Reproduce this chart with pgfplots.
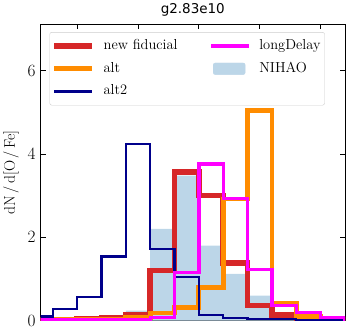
\documentclass[border=0pt]{standalone}
\usepackage{fontspec}
\usepackage{pgfplots}
\usepackage{pgfplotstable}
\pgfplotsset{compat=1.18}
\newfontfamily\dejavu{DejaVu Sans}

\definecolor{cred}{HTML}{D62728}
\definecolor{corange}{HTML}{FF8C00}
\definecolor{cnavy}{HTML}{00008B}
\definecolor{cmag}{HTML}{FF00FF}
\definecolor{cnihao}{HTML}{BCD6E8}

% histogram heights, left bin edge in x
\pgfplotstableread{
x      fid   alt   alttwo  long  nihao
-0.7   0.02  0.03  0.10    0.02  0
-0.6   0.03  0.03  0.28    0.02  0
-0.5   0.04  0.03  0.56    0.02  0
-0.4   0.07  0.04  1.54    0.03  0.02
-0.3   0.14  0.08  4.24    0.03  0.24
-0.2   1.20  0.18  1.72    0.08  2.20
-0.1   3.57  0.32  1.05    1.15  3.48
0.0    3.01  0.80  0.14    3.76  1.80
0.1    1.38  2.92  0.065   2.94  1.12
0.2    0.36  5.04  0.04    1.22  0.60
0.3    0.13  0.42  0.03    0.36  0.04
0.4    0.04  0.10  0.02    0.20  0.02
0.5    0.02  0.04  0.01    0.08  0.01
0.6    0     0     0       0     0
}\hist

\pgfplotsset{
  lineimg/.style={legend image code/.code={\draw[##1] (0pt,0pt) -- (37.5pt,0pt);}},
  areaimg/.style={legend image code/.code={\fill[##1] (2pt,-5.8pt) rectangle (34pt,5.8pt);}},
}

\begin{document}
\begin{tikzpicture}
\begin{axis}[
  scale only axis,
  width=305pt, height=297pt,
  xmin=-0.65, xmax=0.6,
  ymin=0, ymax=7.12,
  xtick={-0.5,-0.25,0,0.25,0.5},
  xticklabels={},
  ytick={0,2,4,6},
  tick align=inside,
  major tick length=5pt,
  tick style={black, line width=0.8pt},
  axis line style={black, line width=0.9pt},
  ticklabel style={font=\fontsize{17}{20}\selectfont},
  yticklabel style={xshift=-1.5pt},
  title={\dejavu g2.83e10},
  title style={font=\fontsize{13.5}{16}\selectfont, yshift=-1.5pt},
  ylabel={dN\,/\,d[O\,/\,Fe]},
  ylabel style={font=\fontsize{15.5}{18}\selectfont, at={(axis description cs:-0.097,0.5)}, anchor=center},
  legend columns=2,
  legend cell align=left,
  legend style={
    at={(0.0295,0.973)}, anchor=north west,
    draw=black!20, rounded corners=2pt, fill=white,
    font=\fontsize{14.5}{17}\selectfont,
    inner xsep=2pt, inner ysep=5.8pt,
    nodes={inner xsep=2pt, inner ysep=1pt, text height=10.5pt, text depth=3.5pt},
    /tikz/every odd column/.append style={column sep=7pt},
    /tikz/every even column/.append style={column sep=30pt},
    row sep=6.7pt,
  },
]
\addlegendimage{lineimg, cred, line width=5.5pt}
\addlegendentry{new fiducial}
\addlegendimage{lineimg, cmag, line width=3.3pt}
\addlegendentry{longDelay}
\addlegendimage{lineimg, corange, line width=4.8pt}
\addlegendentry{alt}
\addlegendimage{areaimg, cnihao}
\addlegendentry{NIHAO}
\addlegendimage{lineimg, cnavy, line width=2.2pt}
\addlegendentry{alt2}

\addplot[const plot, fill=cnihao, draw=none, forget plot] table[x=x, y=nihao] {\hist} \closedcycle;
\addplot[const plot, cred, line width=5.5pt, forget plot] table[x=x, y=fid] {\hist};
\addplot[const plot, corange, line width=4.8pt, forget plot] table[x=x, y=alt] {\hist};
\addplot[const plot, cnavy, line width=2.2pt, forget plot] table[x=x, y=alttwo] {\hist};
\addplot[const plot, cmag, line width=3.3pt, forget plot] table[x=x, y=long] {\hist};
\end{axis}
\path (-40pt,-15pt) rectangle (309pt,320pt);
\end{tikzpicture}
\end{document}
